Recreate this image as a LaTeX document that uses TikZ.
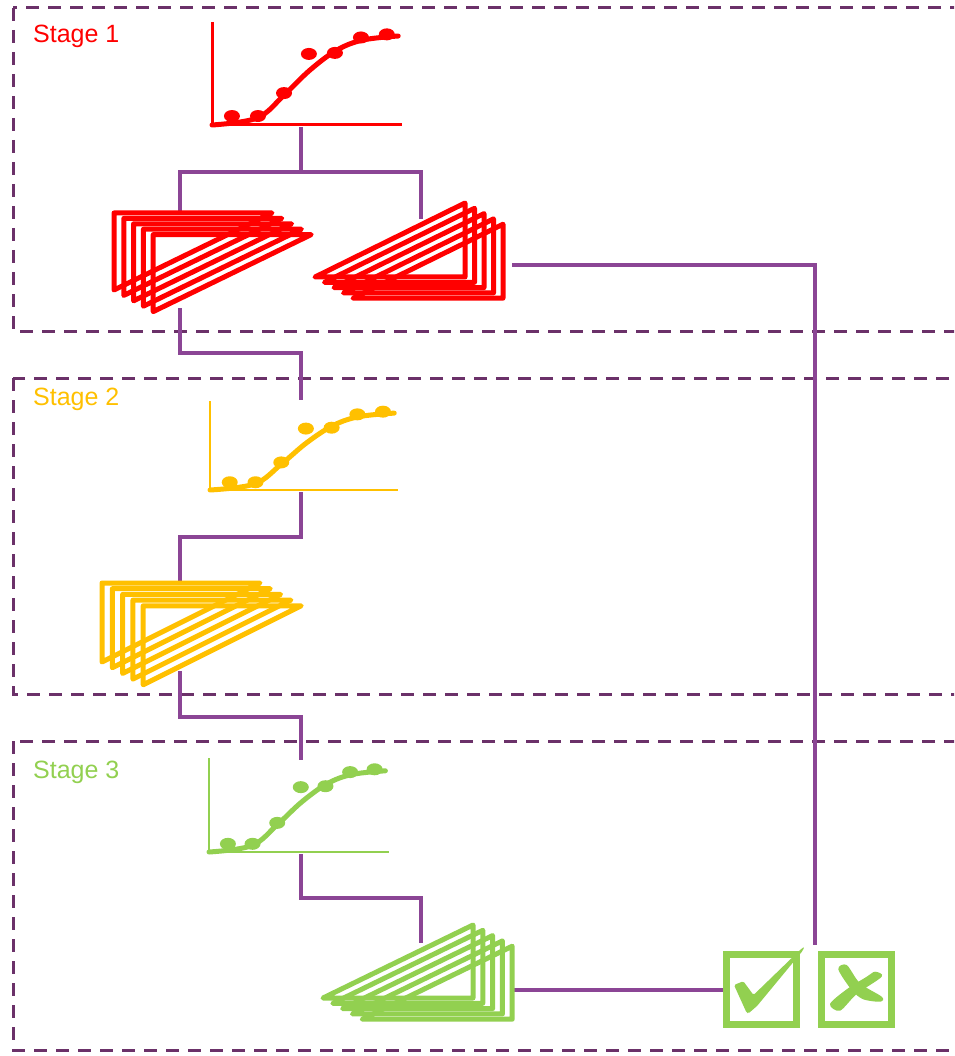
\documentclass[tikz,border=0pt]{standalone}
\usepackage{fontspec}
\setmainfont{Liberation Sans}
\definecolor{sred}{HTML}{FF0000}
\definecolor{syellow}{HTML}{FFC000}
\definecolor{sgreen}{HTML}{92D050}
\definecolor{framepurple}{HTML}{6B3169}
\definecolor{linkpurple}{HTML}{8B4595}

% sigmoid growth chart: origin x, origin y, width, height, colour, axis width
\newcommand\growthchart[6]{%
  \begin{scope}[shift={(#1pt,-#2pt)},x=#3pt,y=#4pt]
    \draw[draw=#5,line width=#6pt] (0,1) -- (0,0) -- (1,0);
    \draw[draw=#5,line width=5pt,line cap=round]
      plot[smooth,tension=0.6] coordinates {(0,0) (0.237,0.068) (0.379,0.29)
        (0.516,0.534) (0.658,0.728) (0.795,0.825) (0.98,0.864)};
    \foreach \u/\v in {0.105/0.087,0.242/0.087,0.379/0.31,0.51/0.69,
                       0.647/0.70,0.784/0.85,0.92/0.88}
      \fill[#5] (\u,\v) ellipse [x radius=8pt,y radius=6pt];
  \end{scope}}

% five stacked right triangles, right angle at top left
\newcommand\stackleft[7]{%
  \foreach \i in {0,...,4}
    \draw[stackline,draw=#7,shift={(\i*#5,\i*#6)}]
      (#1,#2) -- ++(#3,0) -- ++(-#3,#4) -- cycle;}
% five stacked right triangles, right angle at bottom right
\newcommand\stackright[7]{%
  \foreach \i in {0,...,4}
    \draw[stackline,draw=#7,shift={(\i*#5,\i*#6)}]
      (#1,#2) -- ++(0,-#4) -- ++(-#3,#4) -- cycle;}

\tikzset{
  stageframe/.style={draw=framepurple,line width=3pt,dash pattern=on 13pt off 9pt},
  link/.style={draw=linkpurple,line width=4pt},
  stackline/.style={line width=5pt,line join=round},
  stagelabel/.style={anchor=base west,inner sep=0pt,font=\fontsize{25}{30}\selectfont},
  decision/.style={draw=sgreen,line width=7pt,minimum size=70pt,inner sep=0pt},
}

\begin{document}
\begin{tikzpicture}[x=1pt,y=-1pt]
\useasboundingbox (0,0) rectangle (954,1056);
\clip (0,0) rectangle (954,1056);

% stage frames
\draw[stageframe] (13,8) rectangle (990,331);
\draw[stageframe] (13,378) rectangle (990,694);
\draw[stageframe] (13,741) rectangle (990,1050);

\node[stagelabel,text=sred]    (lab1) at (33,43)  {Stage 1};
\node[stagelabel,text=syellow] (lab2) at (33,405) {Stage 2};
\node[stagelabel,text=sgreen]  (lab3) at (33,778) {Stage 3};

% decision boxes
\node[decision] (yes) at (761,989) {};
\node[decision] (no)  at (856,989) {};

% connection points
\coordinate (c1out) at (301,127);
\coordinate (j1)    at (301,172);
\coordinate (s1Ltop) at (180,214);
\coordinate (s1Rtop) at (421,219);
\coordinate (s1Lbot) at (180,308);
\coordinate (k1)    at (301,353);
\coordinate (c2in)  at (301,400);
\coordinate (c2out) at (301,492);
\coordinate (k2)    at (301,537);
\coordinate (s2top) at (180,583);
\coordinate (s2bot) at (180,671);
\coordinate (k3)    at (301,717);
\coordinate (c3in)  at (301,760);
\coordinate (c3out) at (301,854);
\coordinate (k4)    at (421,898);
\coordinate (s3top) at (421,943);
\coordinate (s3out) at (514,990);
\coordinate (s1Rout) at (512,265);
\coordinate (vend)  at (815,945);

% connectors
\draw[link] (c1out) -- (j1);
\draw[link] (s1Ltop) |- (j1) -| (s1Rtop);
\draw[link] (s1Lbot) |- (k1) -- (c2in);
\draw[link] (c2out) -- (k2) -| (s2top);
\draw[link] (s2bot) |- (k3) -- (c3in);
\draw[link] (c3out) |- (k4) -- (s3top);
\draw[link] (s3out) -- (s3out -| yes.west);
\draw[link] (s1Rout) -| (vend);

% growth charts
\growthchart{212}{125}{190}{103}{sred}{3}
\growthchart{210}{490}{188}{89}{syellow}{2}
\growthchart{209}{852}{180}{94}{sgreen}{2}

% triangle stacks
\stackleft{114}{213}{158}{77}{9.8}{5.4}{sred}
\stackright{465}{277}{150}{74}{9.5}{5.3}{sred}
\stackleft{102}{583}{158}{79}{10.3}{5.7}{syellow}
\stackright{473}{998}{150}{73}{9.8}{5.3}{sgreen}

% tick mark
\fill[sgreen,rounded corners=1.5pt] (734,985) -- (743.3,981.2) -- (753.5,995)
  -- (800,950) -- (804.5,946.5) -- (802.5,951) -- (757,1006) -- (748.3,1013.5)
  -- (746.5,1012.5) -- cycle;
% cross mark
\fill[sgreen] plot[smooth cycle,tension=0.5] coordinates {(838.3,969.3) (846.7,965)
  (860,983.3) (881.7,996.7) (880.7,1001.7) (863.3,999.3) (851.7,990)};
\fill[sgreen] plot[smooth cycle,tension=0.5] coordinates {(875,971.7) (881.7,976.7)
  (856.7,994) (840,1010.7) (830,1004) (846.7,989.3) (866.7,976.7)};
\end{tikzpicture}
\end{document}
